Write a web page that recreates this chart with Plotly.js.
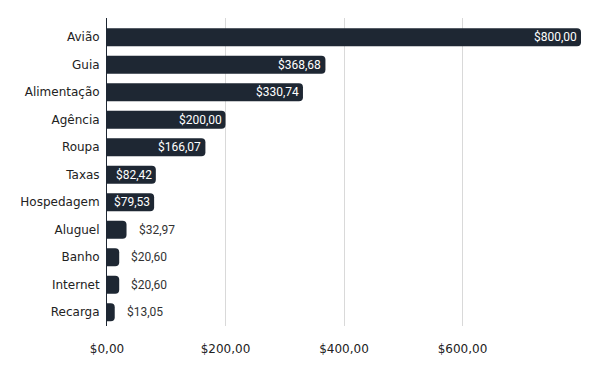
<!DOCTYPE html>
<html><head><meta charset="utf-8">
<script src="https://cdn.plot.ly/plotly-3.0.1.min.js"></script>
<style>html,body{margin:0;padding:0;background:#fff}</style>
</head><body><div id="chart" style="width:600px;height:371px"></div>
<script>
const categories = ["Avião","Guia","Alimentação","Agência","Roupa","Taxas","Hospedagem","Aluguel","Banho","Internet","Recarga"];
const values = [800.00,368.68,330.74,200.00,166.07,82.42,79.53,32.97,20.60,20.60,13.05];
const tickValues = [0,200,400,600];
const insideFlags = [true,true,true,true,true,true,true,false,false,false,false];

function fmt(v){ return "$" + v.toFixed(2).replace(".", ","); }
const labels = values.map(fmt);
const tickText = tickValues.map(fmt);

const trace = {
  type: "bar", orientation: "h",
  x: values, y: categories,
  marker: {color: "#1e2733"},
  cliponaxis: false,
  hoverinfo: "none", width: 0.66
};

const annotations = values.map((v,i)=> ({
  x: v, y: categories[i], xref: "x", yref: "y", text: labels[i],
  showarrow: false,
  xanchor: insideFlags[i] ? "right" : "left",
  xshift: insideFlags[i] ? -2 : 10,
  font: {family: "Roboto, sans-serif", size: 12, color: insideFlags[i] ? "#ffffff" : "#333333"}
}));

const layout = {
  width: 600, height: 371,
  margin: {l: 107, r: 19, t: 18, b: 45},
  paper_bgcolor: "#fff", plot_bgcolor: "#fff",
  barcornerradius: 4,
  showlegend: false,
  font: {family: "DejaVu Sans, sans-serif", size: 12, color: "#222"},
  xaxis: {range: [0, 800], tickvals: tickValues, ticktext: tickText,
          showgrid: true, gridcolor: "#d9d9d9", zeroline: false, showline: false,
          ticks: "", ticklabelstandoff: 14, fixedrange: true},
  yaxis: {type: "category", range: [10.5, -0.7], showline: true, linecolor: "#1e2733", linewidth: 1,
          ticks: "", ticklabelstandoff: 4, showgrid: false, zeroline: false},
  annotations: annotations
};
Plotly.newPlot("chart", [trace], layout, {displayModeBar: false, staticPlot: true});
</script></body></html>
